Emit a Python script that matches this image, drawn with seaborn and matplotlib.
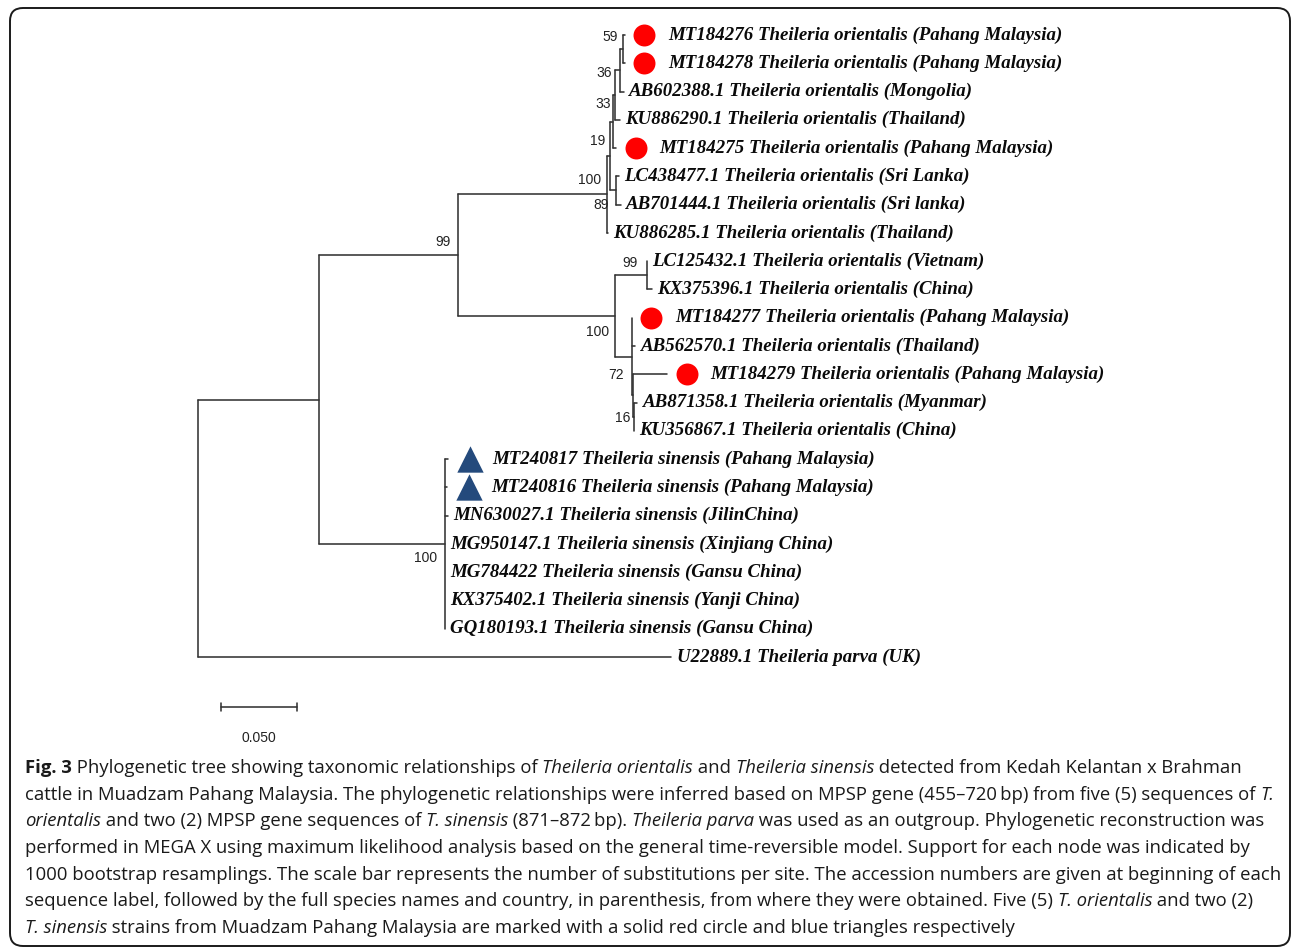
import matplotlib
matplotlib.use("Agg")
import matplotlib.pyplot as plt
from matplotlib.patches import FancyBboxPatch
from matplotlib.transforms import IdentityTransform
import seaborn as sns
import pandas as pd

# ---------------- data ----------------
node_names = ["root", "ingroup", "orientalis", "upper", "n89", "n19", "n33", "n36", "n59",
              "MT184276", "MT184278", "AB602388.1", "KU886290.1", "MT184275",
              "nLCAB", "LC438477.1", "AB701444.1", "KU886285.1",
              "lower", "n99", "LC125432.1", "KX375396.1", "nsub", "MT184277", "AB562570.1",
              "n72", "MT184279", "n16", "AB871358.1", "KU356867.1",
              "sinensis", "MT240817", "MT240816", "MN630027.1", "MG950147.1", "MG784422",
              "KX375402.1", "GQ180193.1",
              "U22889.1"]
node_parents = [None, "root", "ingroup", "orientalis", "upper", "n89", "n19", "n33", "n36",
                "n59", "n59", "n36", "n33", "n19",
                "n89", "nLCAB", "nLCAB", "upper",
                "orientalis", "lower", "n99", "n99", "lower", "nsub", "nsub",
                "nsub", "n72", "n72", "n16", "n16",
                "ingroup", "sinensis", "sinensis", "sinensis", "sinensis", "sinensis",
                "sinensis", "sinensis",
                "root"]
branch_lengths = [0.0, 0.0796, 0.0914, 0.0980, 0.0020, 0.0020, 0.0013, 0.0033, 0.0020,
                  0.0013, 0.0013, 0.0026, 0.0033, 0.0020,
                  0.0039, 0.0020, 0.0033, 0.0007,
                  0.1033, 0.0211, 0.0, 0.0033, 0.0112, 0.0, 0.0020,
                  0.0007, 0.0224, 0.0007, 0.0020, 0.0,
                  0.0829, 0.0020, 0.0013, 0.0020, 0.0, 0.0,
                  0.0, 0.0,
                  0.3112]
node_support = [None, None, 99, 100, 89, 19, 33, 36, 59,
                None, None, None, None, None,
                None, None, None, None,
                100, 99, None, None, None, None, None,
                72, None, 16, None, None,
                100, None, None, None, None, None,
                None, None,
                None]

leaf_descriptions = {
    "MT184276": "Theileria orientalis (Pahang Malaysia)",
    "MT184278": "Theileria orientalis (Pahang Malaysia)",
    "AB602388.1": "Theileria orientalis (Mongolia)",
    "KU886290.1": "Theileria orientalis (Thailand)",
    "MT184275": "Theileria orientalis (Pahang Malaysia)",
    "LC438477.1": "Theileria orientalis (Sri Lanka)",
    "AB701444.1": "Theileria orientalis (Sri lanka)",
    "KU886285.1": "Theileria orientalis (Thailand)",
    "LC125432.1": "Theileria orientalis (Vietnam)",
    "KX375396.1": "Theileria orientalis (China)",
    "MT184277": "Theileria orientalis (Pahang Malaysia)",
    "AB562570.1": "Theileria orientalis (Thailand)",
    "MT184279": "Theileria orientalis (Pahang Malaysia)",
    "AB871358.1": "Theileria orientalis (Myanmar)",
    "KU356867.1": "Theileria orientalis (China)",
    "MT240817": "Theileria sinensis (Pahang Malaysia)",
    "MT240816": "Theileria sinensis (Pahang Malaysia)",
    "MN630027.1": "Theileria sinensis (JilinChina)",
    "MG950147.1": "Theileria sinensis (Xinjiang China)",
    "MG784422": "Theileria sinensis (Gansu China)",
    "KX375402.1": "Theileria sinensis (Yanji China)",
    "GQ180193.1": "Theileria sinensis (Gansu China)",
    "U22889.1": "Theileria parva (UK)",
}
circle_leaves = ["MT184276", "MT184278", "MT184275", "MT184277", "MT184279"]
triangle_leaves = ["MT240817", "MT240816"]
scale_bar_value = 0.050
scale_bar_label = "0.050"

caption_lines = [
    [("Fig. 3", "b"), (" Phylogenetic tree showing taxonomic relationships of ", ""),
     ("Theileria orientalis", "i"), (" and ", ""), ("Theileria sinensis", "i"),
     (" detected from Kedah Kelantan x Brahman", "")],
    [("cattle in Muadzam Pahang Malaysia. The phylogenetic relationships were inferred based on MPSP gene (455\u2013720\u2009bp) from five (5) sequences of ", ""),
     ("T.", "i")],
    [("orientalis", "i"), (" and two (2) MPSP gene sequences of ", ""), ("T. sinensis", "i"),
     (" (871\u2013872\u2009bp). ", ""), ("Theileria parva", "i"),
     (" was used as an outgroup. Phylogenetic reconstruction was", "")],
    [("performed in MEGA X using maximum likelihood analysis based on the general time-reversible model. Support for each node was indicated by", "")],
    [("1000 bootstrap resamplings. The scale bar represents the number of substitutions per site. The accession numbers are given at beginning of each", "")],
    [("sequence label, followed by the full species names and country, in parenthesis, from where they were obtained. Five (5) ", ""),
     ("T. orientalis", "i"), (" and two (2)", "")],
    [("T. sinensis", "i"), (" strains from Muadzam Pahang Malaysia are marked with a solid red circle and blue triangles respectively", "")],
]

# ---------------- layout / style ----------------
W, H = 1292, 949
PX_PER_UNIT = 1520.0      # pixels per substitution/site
ROW_PX = 28.27            # pixels between leaves
ROOT_PX = (198, 35)       # pixel position of root x / first leaf y
LINE_COLOR = "#333333"
RED = "#ff0000"
BLUE = "#244a7c"
support_offsets = {       # (dx, dy) in pixels of label right edge from node
    "n59": (-5, -12), "n36": (-8, 3), "n33": (-4, 9), "n19": (-8, 19.5),
    "upper": (-6, -14), "n89": (-1, 49), "orientalis": (-7, -13),
    "n99": (-9, -12), "lower": (-6, 16), "n72": (-9, -20), "n16": (-4, 1.5),
    "sinensis": (-8, 14),
}

sns.set_theme(style="white")
plt.rcParams["font.family"] = ["DejaVu Sans"]

fig = plt.figure(figsize=(W / 100, H / 100), dpi=100)
fig.patch.set_facecolor("white")
ax = fig.add_axes([0, 0, 1, 1])
ax.set_xlim(-ROOT_PX[0] / PX_PER_UNIT, (W - ROOT_PX[0]) / PX_PER_UNIT)
ax.set_ylim((H - ROOT_PX[1]) / ROW_PX, -ROOT_PX[1] / ROW_PX)
ax.axis("off")

def px_dx(p):
    return p / PX_PER_UNIT

def px_dy(p):
    return p / ROW_PX

# ---------------- tree layout ----------------
children = {n: [] for n in node_names}
for n, p in zip(node_names, node_parents):
    if p is not None:
        children[p].append(n)
blen = dict(zip(node_names, branch_lengths))
support = dict(zip(node_names, node_support))
parent = dict(zip(node_names, node_parents))

xpos, ypos = {}, {}
leaf_counter = [0]

def layout(n, x0):
    xpos[n] = x0 + blen[n]
    if not children[n]:
        ypos[n] = leaf_counter[0]
        leaf_counter[0] += 1
    else:
        for c in children[n]:
            layout(c, xpos[n])
        ypos[n] = 0.5 * (ypos[children[n][0]] + ypos[children[n][-1]])

layout("root", 0.0)

rows = []
seg = 0
for n in node_names:
    p = parent[n]
    if p is not None and blen[n] > 0:
        rows += [(seg, xpos[p], ypos[n]), (seg, xpos[n], ypos[n])]
        seg += 1
    if children[n]:
        rows += [(seg, xpos[n], ypos[children[n][0]]), (seg, xpos[n], ypos[children[n][-1]])]
        seg += 1
seg_df = pd.DataFrame(rows, columns=["seg", "x", "y"])
sns.lineplot(data=seg_df, x="x", y="y", units="seg", estimator=None, sort=False,
             color=LINE_COLOR, linewidth=1.15, ax=ax, legend=False)

# ---------------- fonts fitted to reference ----------------
renderer = fig.canvas.get_renderer()

def measure(s, **kw):
    t = fig.text(0, 0, "|" + s + "|", **kw)
    w = t.get_window_extent(renderer).width
    t.remove()
    t2 = fig.text(0, 0, "||", **kw)
    w2 = t2.get_window_extent(renderer).width
    t2.remove()
    return w - w2

leaf_font = dict(family="Liberation Serif", fontweight="bold", fontstyle="italic")
base = measure("MT184276 Theileria orientalis (Pahang Malaysia)", fontsize=12, **leaf_font)
leaf_size = 12 * 393.0 / base

# ---------------- leaf labels and markers ----------------
circ = {"x": [], "y": []}
tri = {"x": [], "y": []}
for n in node_names:
    if children[n]:
        continue
    if n in circle_leaves:
        circ["x"].append(xpos[n] + px_dx(19.5)); circ["y"].append(ypos[n])
        off = 43.5
    elif n in triangle_leaves:
        tri["x"].append(xpos[n] + px_dx(22)); tri["y"].append(ypos[n])
        off = 44
    else:
        off = 5.5
    ax.text(xpos[n] + px_dx(off), ypos[n], n + " " + leaf_descriptions[n],
            fontsize=leaf_size, color="#0a0a0a", va="center", ha="left", **leaf_font)

sns.scatterplot(x=circ["x"], y=circ["y"], marker="o", s=250, color=RED,
                linewidth=0, ax=ax, legend=False, zorder=3)
sns.scatterplot(x=tri["x"], y=tri["y"], marker="^", s=360, color=BLUE,
                linewidth=0, ax=ax, legend=False, zorder=3)

# ---------------- bootstrap values ----------------
for n in node_names:
    if support[n] is None:
        continue
    dx, dy = support_offsets.get(n, (-5, -12))
    ax.text(xpos[n] + px_dx(dx), ypos[n] + px_dy(dy), str(support[n]),
            fontsize=10, family="Liberation Sans", color="#222222",
            ha="right", va="center")

# ---------------- scale bar ----------------
last_leaf = leaf_counter[0] - 1
sb_x0 = px_dx(23)
sb_y = last_leaf + px_dy(50)
sb_df = pd.DataFrame({"seg": [0, 0, 1, 1, 2, 2],
                      "x": [sb_x0, sb_x0 + scale_bar_value, sb_x0, sb_x0,
                            sb_x0 + scale_bar_value, sb_x0 + scale_bar_value],
                      "y": [sb_y, sb_y, sb_y - px_dy(4), sb_y + px_dy(4),
                            sb_y - px_dy(4), sb_y + px_dy(4)]})
sns.lineplot(data=sb_df, x="x", y="y", units="seg", estimator=None, sort=False,
             color=LINE_COLOR, linewidth=1.15, ax=ax, legend=False)
ax.text(sb_x0 + scale_bar_value / 2, sb_y + px_dy(31), scale_bar_label,
        fontsize=10, family="Liberation Sans", color="#222222", ha="center", va="center")
ax.set_xlabel(""); ax.set_ylabel("")

# ---------------- caption ----------------
cap_family = "Open Sans"
def seg_kw(style, size):
    return dict(fontsize=size, family=cap_family,
                fontweight="bold" if "b" in style else "normal",
                fontstyle="italic" if "i" in style else "normal")

w0 = sum(measure(t, **seg_kw(st, 12)) for t, st in caption_lines[0])
cap_size = 12 * 1211.0 / w0

cap_x0, cap_y0, cap_dy = 25, 768, 26.67
for i, line in enumerate(caption_lines):
    x = cap_x0
    y = cap_y0 + i * cap_dy
    for t, st in line:
        kw = seg_kw(st, cap_size)
        fig.text(x / W, 1 - y / H, t, va="center", ha="left", color="#1a1a1a", **kw)
        x += measure(t, **kw)

# ---------------- frame ----------------
frame = FancyBboxPatch((10, H - 946), 1280, 938,
                       boxstyle="round,pad=0,rounding_size=13",
                       transform=IdentityTransform(), fill=False,
                       edgecolor="#1a1a1a", linewidth=1.4)
fig.patches.append(frame)

fig.savefig("out.png", dpi=100, facecolor="white")
